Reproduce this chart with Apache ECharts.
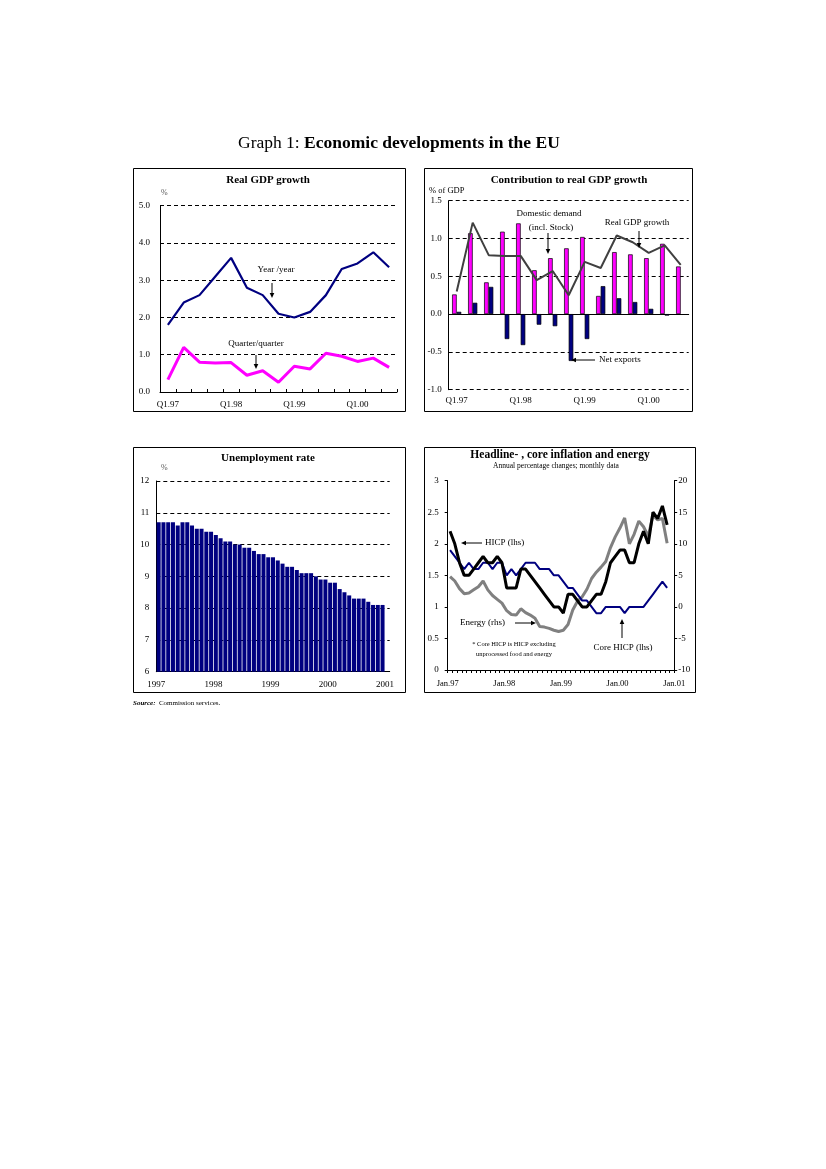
<!DOCTYPE html>
<html><head><meta charset="utf-8">
<script src="https://cdn.jsdelivr.net/npm/echarts@6.0.0/dist/echarts.min.js"></script>
<style>html,body{margin:0;padding:0;background:#fff}#c{width:826px;height:1169px}</style>
</head><body><div id="c"></div>
<script>
// ---------- data ----------
const gdpQuarters = ['Q1.97','Q2.97','Q3.97','Q4.97','Q1.98','Q2.98','Q3.98','Q4.98','Q1.99','Q2.99','Q3.99','Q4.99','Q1.00','Q2.00','Q3.00'];
const gdpYoY = [1.8, 2.4, 2.6, 3.1, 3.6, 2.8, 2.6, 2.1, 2.0, 2.15, 2.6, 3.3, 3.45, 3.75, 3.35];
const gdpQoQ = [0.33, 1.2, 0.8, 0.78, 0.79, 0.45, 0.57, 0.26, 0.69, 0.62, 1.04, 0.96, 0.82, 0.91, 0.66];

const domesticDemand = [0.26, 1.07, 0.42, 1.09, 1.2, 0.58, 0.74, 0.87, 1.02, 0.24, 0.82, 0.79, 0.74, 0.93, 0.63];
const netExports = [0.03, 0.15, 0.36, -0.33, -0.41, -0.14, -0.16, -0.62, -0.33, 0.37, 0.21, 0.16, 0.07, -0.02, null];
const realGdpGrowth = [0.3, 1.21, 0.78, 0.77, 0.77, 0.45, 0.57, 0.25, 0.69, 0.61, 1.04, 0.95, 0.81, 0.91, 0.65];

const unemployment = [10.7,10.7,10.7,10.7,10.6,10.7,10.7,10.6,10.5,10.5,10.4,10.4,
  10.3,10.2,10.1,10.1,10.0,10.0,9.9,9.9,9.8,9.7,9.7,9.6,
  9.6,9.5,9.4,9.3,9.3,9.2,9.1,9.1,9.1,9.0,8.9,8.9,
  8.8,8.8,8.6,8.5,8.4,8.3,8.3,8.3,8.2,8.1,8.1,8.1];
const unempTickLabels = ['1997','1998','1999','2000','2001'];

const hicp = [2.2,2.0,1.7,1.5,1.5,1.6,1.7,1.8,1.7,1.7,1.8,1.7,
  1.3,1.3,1.3,1.6,1.6,1.5,1.4,1.3,1.2,1.1,1.0,1.0,
  0.9,1.2,1.2,1.1,1.0,1.0,1.1,1.2,1.2,1.4,1.7,1.8,
  1.9,1.9,1.7,1.7,2.0,2.2,2.0,2.5,2.4,2.6,2.3];
const coreHicp = [1.9,1.8,1.7,1.6,1.7,1.6,1.6,1.7,1.7,1.6,1.7,1.7,
  1.5,1.6,1.5,1.6,1.7,1.7,1.7,1.6,1.6,1.6,1.5,1.5,
  1.4,1.3,1.3,1.2,1.1,1.1,1.0,0.9,0.9,1.0,1.0,1.0,
  1.0,0.9,1.0,1.0,1.0,1.0,1.1,1.2,1.3,1.4,1.3];
const energy = [4.8,4.1,2.9,2.1,2.2,2.7,3.2,4.1,2.7,1.8,1.2,0.6,
  -0.6,-1.2,-1.3,-0.3,-0.9,-1.3,-1.8,-3.1,-3.2,-3.4,-3.7,-3.9,
  -3.7,-2.8,-0.5,0.9,1.6,2.8,4.5,5.5,6.3,7.2,9.4,11.1,
  12.5,14.1,10.0,11.5,13.6,12.7,11.2,14.5,13.8,14.0,10.1];
const inflTickLabels = ['Jan.97','Jan.98','Jan.99','Jan.00','Jan.01'];

// month categories starting Jan 1997
const monthNames = ['Jan','Feb','Mar','Apr','May','Jun','Jul','Aug','Sep','Oct','Nov','Dec'];
function monthList(n){ const out = []; for (let k = 0; k < n; k++) out.push(monthNames[k % 12] + '.' + String((97 + Math.floor(k / 12)) % 100).padStart(2,'0')); return out; }
const unempMonths = monthList(49);   // Jan.97 .. Jan.01
const inflMonths = monthList(48);    // Jan.97 .. Dec.00

// ---------- styles ----------
const FONT = '"Liberation Serif","Times New Roman",serif';
const lbl = {color:'#000', fontFamily:FONT, fontSize:9};
const axLine = {show:true, lineStyle:{color:'#000', width:1}};
const dashSplit = {show:true, lineStyle:{color:'#000', width:1, type:[4,3]}};

function arrow(x1,y1,x2,y2){
  const a = Math.atan2(y2-y1, x2-x1), L = 5, W = 2.3;
  const c = Math.cos(a), s = Math.sin(a);
  const bx = x2 - L*c, by = y2 - L*s;
  return [
    {type:'line', shape:{x1:x1,y1:y1,x2:bx,y2:by}, style:{stroke:'#000', lineWidth:1}, z:100},
    {type:'polygon', shape:{points:[[x2,y2],[bx+W*s,by-W*c],[bx-W*s,by+W*c]]}, style:{fill:'#000'}, z:100}
  ];
}
function txt(x,y,text,opt){
  opt = opt || {};
  return {type:'text', x:x, y:y, z:100, style:{
    text:text, fill:opt.color||'#000',
    fontFamily:FONT, fontSize:opt.size||9, fontWeight:opt.bold?'bold':'normal', fontStyle:opt.italic?'italic':'normal',
    align:opt.align||'center', verticalAlign:'middle', textAlign:opt.align||'center', textVerticalAlign:'middle'
  }};
}
function box(x1,y1,x2,y2){
  return {type:'rect', shape:{x:x1+0.5,y:y1+0.5,width:x2-x1,height:y2-y1}, style:{fill:null, stroke:'#000', lineWidth:1}, z:50};
}

const graphics = [
  box(133,168,405,411), box(424,168,692,411), box(133,447,405,692), box(424,447,695,692),
  {type:'text', x:238, y:143, z:100, style:{text:'{a|Graph 1: }{b|Economic developments in the EU}', fill:'#000',
     align:'left', verticalAlign:'middle', textAlign:'left', textVerticalAlign:'middle',
     rich:{a:{fontFamily:FONT, fontSize:17.5, color:'#000'}, b:{fontFamily:FONT, fontSize:17.5, fontWeight:'bold', color:'#000'}}}},
  txt(268,180,'Real GDP growth',{bold:true,size:11}),
  txt(161,193,'%',{size:8,color:'#555',align:'left'}),
  txt(276,270,'Year /year'),
  ...arrow(272,283,272,298),
  txt(256,344,'Quarter/quarter'),
  ...arrow(256,355,256,369),
  txt(569,180,'Contribution to real GDP growth',{bold:true,size:11}),
  txt(429,191,'% of GDP',{size:8.5,align:'left'}),
  txt(549,214,'Domestic demand'),
  txt(551,228,'(incl. Stock)'),
  ...arrow(548,233,548,254),
  txt(637,223,'Real GDP growth'),
  ...arrow(639,231,639,248),
  txt(599,360,'Net exports',{align:'left'}),
  ...arrow(595,360,571,360),
  txt(268,458,'Unemployment rate',{bold:true,size:11}),
  txt(161,468,'%',{size:8,color:'#555',align:'left'}),
  txt(560,455.5,'Headline- , core inflation and energy',{bold:true,size:11.5}),
  txt(556,466.5,'Annual percentage changes; monthly data',{size:7.5}),
  txt(485,543,'HICP (lhs)',{align:'left'}),
  ...arrow(482,543,461,543),
  txt(460,623,'Energy (rhs)',{align:'left'}),
  ...arrow(515,623,536,623),
  txt(514,644,'* Core HICP is HICP excluding',{size:6.5}),
  txt(514,654,'unprocessed food and energy',{size:6.5}),
  txt(623,648,'Core HICP (lhs)'),
  ...arrow(622,638,622,619),
  {type:'text', x:133, y:703, z:100, style:{text:'{i|Source:} {r|Commission services.}', align:'left', verticalAlign:'middle', textAlign:'left', textVerticalAlign:'middle',
     rich:{i:{fontFamily:FONT, fontSize:7, fontStyle:'italic', fontWeight:'bold', color:'#000'}, r:{fontFamily:FONT, fontSize:7, color:'#000'}}}}
];

const option = {
  animation:false,
  backgroundColor:'#fff',
  grid:[
    {left:160, top:205.7, width:237, height:186.3, outerBoundsMode:'none'},
    {left:448.7, top:200.7, width:240, height:189, outerBoundsMode:'none'},
    {left:156.3, top:481, width:233.4, height:190.7, outerBoundsMode:'none'},
    {left:447.7, top:480.7, width:226.5, height:189.3, outerBoundsMode:'none'}
  ],
  xAxis:[
    {gridIndex:0, type:'category', position:'bottom', data:gdpQuarters, boundaryGap:true, axisLine:axLine,
     axisTick:{show:true, inside:true, length:3, interval:0, lineStyle:{color:'#000'}},
     axisLabel:Object.assign({}, lbl, {interval:3, margin:8}), splitLine:{show:false}},
    {gridIndex:1, type:'category', position:'bottom', data:gdpQuarters, boundaryGap:true,
     axisLine:{show:true, onZero:true, lineStyle:{color:'#000', width:1}}, axisTick:{show:false}, axisLabel:{show:false}, splitLine:{show:false}},
    {gridIndex:1, type:'category', position:'bottom', data:gdpQuarters, boundaryGap:true,
     axisLine:{show:false, onZero:false}, axisTick:{show:false},
     axisLabel:Object.assign({}, lbl, {interval:3, margin:6}), splitLine:{show:false}},
    {gridIndex:2, type:'category', position:'bottom', data:unempMonths, boundaryGap:true, axisLine:axLine, axisTick:{show:false},
     axisLabel:{show:false}, splitLine:{show:false}},
    {gridIndex:2, type:'value', position:'bottom', min:0, max:unempMonths.length, interval:12,
     axisLine:{show:false, onZero:false}, axisTick:{show:false}, splitLine:{show:false},
     axisLabel:Object.assign({}, lbl, {margin:8, showMaxLabel:false, formatter:v=>(v%12===0 && unempTickLabels[v/12]) || ''})},
    {gridIndex:3, type:'category', position:'bottom', data:inflMonths, boundaryGap:true, axisLine:axLine,
     axisTick:{show:true, interval:0, length:3, lineStyle:{color:'#000'}},
     axisLabel:{show:false}, splitLine:{show:false}},
    {gridIndex:3, type:'value', position:'bottom', min:0, max:inflMonths.length, interval:12,
     axisLine:{show:false, onZero:false}, axisTick:{show:false}, splitLine:{show:false},
     axisLabel:Object.assign({}, lbl, {fontSize:8.5, margin:9, formatter:v=>(v%12===0 && inflTickLabels[v/12]) || ''})}
  ],
  yAxis:[
    {gridIndex:0, type:'value', min:0, max:5, interval:1, axisLine:axLine, axisTick:{show:false},
     axisLabel:Object.assign({}, lbl, {margin:10, formatter:v=>v.toFixed(1)}), splitLine:dashSplit},
    {gridIndex:1, type:'value', min:-1, max:1.5, interval:0.5, axisLine:axLine, axisTick:{show:false},
     axisLabel:Object.assign({}, lbl, {margin:7, formatter:v=>v.toFixed(1)}), splitLine:dashSplit},
    {gridIndex:2, type:'value', min:6, max:12, interval:1, axisLine:axLine, axisTick:{show:false},
     axisLabel:Object.assign({}, lbl, {margin:7}), splitLine:dashSplit},
    {gridIndex:3, type:'value', min:0, max:3, interval:0.5, axisLine:axLine,
     axisTick:{show:true, length:3, lineStyle:{color:'#000'}},
     axisLabel:Object.assign({}, lbl, {margin:9}), splitLine:{show:false}},
    {gridIndex:3, type:'value', position:'right', min:-10, max:20, interval:5, axisLine:axLine,
     axisTick:{show:true, length:3, lineStyle:{color:'#000'}},
     axisLabel:Object.assign({}, lbl, {margin:4}), splitLine:{show:false}}
  ],
  series:[
    {type:'line', name:'Year/year', xAxisIndex:0, yAxisIndex:0, data:gdpYoY, symbol:'none',
     lineStyle:{color:'#000080', width:2.2}, itemStyle:{color:'#000080'}},
    {type:'line', name:'Quarter/quarter', xAxisIndex:0, yAxisIndex:0, data:gdpQoQ, symbol:'none',
     lineStyle:{color:'#ff00ff', width:3}, itemStyle:{color:'#ff00ff'}},
    {type:'bar', name:'Domestic demand', xAxisIndex:1, yAxisIndex:1, data:domesticDemand, barWidth:4.6, barGap:'0%',
     itemStyle:{color:'#ff00ff', borderColor:'#000', borderWidth:0.7}},
    {type:'bar', name:'Net exports', xAxisIndex:1, yAxisIndex:1, data:netExports, barWidth:4.6, barGap:'0%',
     itemStyle:{color:'#000080', borderColor:'#000', borderWidth:0.7}},
    {type:'line', name:'Real GDP growth', xAxisIndex:1, yAxisIndex:1, data:realGdpGrowth, symbol:'none', z:5,
     lineStyle:{color:'#404040', width:2}, itemStyle:{color:'#404040'}},
    {type:'bar', name:'Unemployment', xAxisIndex:3, yAxisIndex:2, data:unemployment, barCategoryGap:'16%',
     itemStyle:{color:'#000080'}},
    {type:'line', name:'Energy', xAxisIndex:5, yAxisIndex:4, data:energy, symbol:'none',
     lineStyle:{color:'#808080', width:3}, itemStyle:{color:'#808080'}},
    {type:'line', name:'Core HICP', xAxisIndex:5, yAxisIndex:3, data:coreHicp, symbol:'none',
     lineStyle:{color:'#000080', width:2}, itemStyle:{color:'#000080'}},
    {type:'line', name:'HICP', xAxisIndex:5, yAxisIndex:3, data:hicp, symbol:'none',
     lineStyle:{color:'#000', width:3}, itemStyle:{color:'#000'}}
  ],
  graphic:{elements:graphics}
};
const chart = echarts.init(document.getElementById('c'), null, {renderer:'canvas', width:826, height:1169});
chart.setOption(option);
</script></body></html>
